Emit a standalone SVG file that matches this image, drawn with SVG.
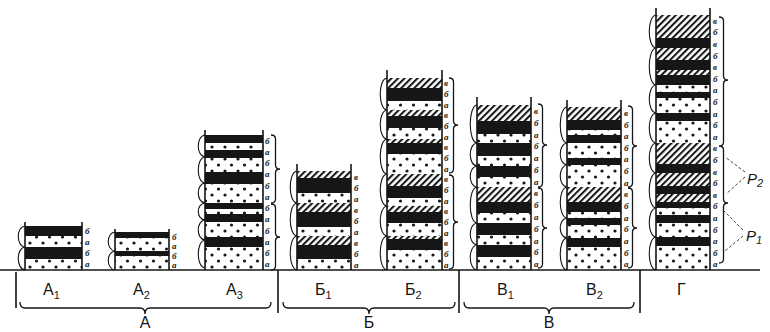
<svg xmlns="http://www.w3.org/2000/svg" width="770" height="332" viewBox="0 0 770 332">
<defs>
<pattern id="hp" width="4.6" height="4.6" patternUnits="userSpaceOnUse" patternTransform="rotate(45)"><rect width="4.6" height="4.6" fill="#fff"/><line x1="1" y1="0" x2="1" y2="4.6" stroke="#161616" stroke-width="2.1"/></pattern>
<pattern id="dp" width="13" height="12" patternUnits="userSpaceOnUse"><rect width="13" height="12" fill="#fff"/><circle cx="4" cy="3" r="1.6" fill="#161616"/><circle cx="10.5" cy="9" r="1.6" fill="#161616"/></pattern>
<style>
.k{fill:#161616}.h{fill:url(#hp)}.d{fill:url(#dp)}
.ln{stroke:#161616;stroke-width:1.6;fill:none}
.arc{stroke:#161616;stroke-width:1.1;fill:none}
.br{stroke:#161616;stroke-width:1.3;fill:none}
.ds{stroke:#161616;stroke-width:0.8;fill:none;stroke-dasharray:3 2}
.lb{font-family:"Liberation Serif",serif;font-style:italic;font-weight:bold;font-size:9px;fill:#161616}
.cap{font-family:"Liberation Sans",sans-serif;font-size:16px;fill:#161616}
.sub{font-size:11px}
.p{font-family:"Liberation Sans",sans-serif;font-style:italic;font-size:15px;fill:#161616}
</style>
</defs>
<rect width="770" height="332" fill="#fff"/>

<g id="A1">
<rect class="k" x="25" y="226" width="57" height="10"/><rect class="d" x="25" y="236" width="57" height="11"/><rect class="k" x="25" y="247" width="57" height="12"/><rect class="d" x="25" y="259" width="57" height="11"/>
<path class="ln" d="M25 222V270M82 222V270"/>
<path class="arc" d="M25 226C16 227 16 246 25 247M25 247C16 248 16 269 25 270"/>
<g class="lb"><text x="85" y="234">б</text><text x="85" y="245">а</text><text x="85" y="256">б</text><text x="85" y="267">а</text></g>
</g>

<g id="A2">
<rect class="k" x="115" y="232" width="54" height="6"/><rect class="d" x="115" y="238" width="54" height="13"/><rect class="k" x="115" y="251" width="54" height="5"/><rect class="d" x="115" y="256" width="54" height="14"/>
<path class="ln" d="M115 229V270M169 229V270"/>
<path class="arc" d="M115 232C106 233 106 250 115 251M115 251C106 252 106 269 115 270"/>
<g class="lb"><text x="172" y="240">б</text><text x="172" y="249">а</text><text x="172" y="259">б</text><text x="172" y="268">а</text></g>
</g>

<g id="A3">
<rect class="k" x="205" y="135" width="58" height="8"/><rect class="d" x="205" y="143" width="58" height="7"/><rect class="k" x="205" y="150" width="58" height="8"/><rect class="d" x="205" y="158" width="58" height="14"/><rect class="k" x="205" y="172" width="58" height="12"/><rect class="d" x="205" y="184" width="58" height="19"/><rect class="k" x="205" y="203" width="58" height="6"/><rect class="d" x="205" y="209" width="58" height="5"/><rect class="k" x="205" y="214" width="58" height="8"/><rect class="d" x="205" y="222" width="58" height="15"/><rect class="k" x="205" y="237" width="58" height="10"/><rect class="d" x="205" y="247" width="58" height="23"/>
<path class="ln" d="M205 130V270M263 130V270"/>
<path class="arc" d="M205 135C196 136 196 156 205 157M205 157C196 158 196 182 205 183M205 183C196 184 196 202 205 203M205 203C196 204 196 219 205 220M205 220C196 221 196 239 205 240M205 240C196 241 196 267 205 268"/>
<path class="br" d="M271 135Q275.5 135 275.5 139L275.5 165Q275.5 169 280 169Q275.5 169 275.5 173L275.5 199Q275.5 203 271 203M271 204Q275.5 204 275.5 208L275.5 233Q275.5 237 280 237Q275.5 237 275.5 241L275.5 266Q275.5 270 271 270"/>
<g class="lb"><text x="265" y="144">б</text><text x="265" y="155">а</text><text x="265" y="166">б</text><text x="265" y="177">а</text><text x="265" y="189">б</text><text x="265" y="200">а</text><text x="265" y="211">б</text><text x="265" y="222">а</text><text x="265" y="234">б</text><text x="265" y="245">а</text><text x="265" y="256">б</text><text x="265" y="267">а</text></g>
</g>

<g id="B1">
<rect class="h" x="297" y="171" width="54" height="7"/><rect class="k" x="297" y="178" width="54" height="15"/><rect class="d" x="297" y="193" width="54" height="10"/><rect class="h" x="297" y="203" width="54" height="9"/><rect class="k" x="297" y="212" width="54" height="15"/><rect class="d" x="297" y="227" width="54" height="9"/><rect class="h" x="297" y="236" width="54" height="9"/><rect class="k" x="297" y="245" width="54" height="14"/><rect class="d" x="297" y="259" width="54" height="11"/>
<path class="ln" d="M297 164V270M351 164V270"/>
<path class="arc" d="M297 171C288 172 288 202 297 203M297 203C288 204 288 235 297 236M297 236C288 237 288 269 297 270"/>
<g class="lb"><text x="354" y="180">в</text><text x="354" y="191">б</text><text x="354" y="202">а</text><text x="354" y="213">в</text><text x="354" y="224">б</text><text x="354" y="235">а</text><text x="354" y="246">в</text><text x="354" y="257">б</text><text x="354" y="268">а</text></g>
</g>

<g id="B2">
<rect class="h" x="387" y="78" width="55" height="10"/><rect class="k" x="387" y="88" width="55" height="13"/><rect class="d" x="387" y="101" width="55" height="9"/><rect class="h" x="387" y="110" width="55" height="6"/><rect class="k" x="387" y="116" width="55" height="12"/><rect class="d" x="387" y="128" width="55" height="11"/><rect class="h" x="387" y="139" width="55" height="4"/><rect class="k" x="387" y="143" width="55" height="11"/><rect class="d" x="387" y="154" width="55" height="20"/><rect class="h" x="387" y="174" width="55" height="12"/><rect class="k" x="387" y="186" width="55" height="12"/><rect class="d" x="387" y="198" width="55" height="8"/><rect class="h" x="387" y="206" width="55" height="6"/><rect class="k" x="387" y="212" width="55" height="11"/><rect class="d" x="387" y="223" width="55" height="13"/><rect class="h" x="387" y="236" width="55" height="3"/><rect class="k" x="387" y="239" width="55" height="11"/><rect class="d" x="387" y="250" width="55" height="20"/>
<path class="ln" d="M387 70V270M442 70V270"/>
<path class="arc" d="M387 78C378 79 378 109 387 110M387 110C378 111 378 138 387 139M387 139C378 140 378 173 387 174M387 174C378 175 378 205 387 206M387 206C378 207 378 235 387 236M387 236C378 237 378 269 387 270"/>
<path class="br" d="M449 78Q453.5 78 453.5 82L453.5 121Q453.5 125 458 125Q453.5 125 453.5 129L453.5 169Q453.5 173 449 173M449 175Q453.5 175 453.5 179L453.5 218Q453.5 222 458 222Q453.5 222 453.5 226L453.5 265Q453.5 269 449 269"/>
<g class="lb"><text x="444" y="86">в</text><text x="444" y="97">б</text><text x="444" y="108">а</text><text x="444" y="118">в</text><text x="444" y="129">б</text><text x="444" y="140">а</text><text x="444" y="150">в</text><text x="444" y="161">б</text><text x="444" y="172">а</text><text x="444" y="182">в</text><text x="444" y="193">б</text><text x="444" y="204">а</text><text x="444" y="214">в</text><text x="444" y="225">б</text><text x="444" y="236">а</text><text x="444" y="246">в</text><text x="444" y="257">б</text><text x="444" y="268">а</text></g>
</g>

<g id="V1">
<rect class="h" x="477" y="105" width="54" height="16"/><rect class="k" x="477" y="121" width="54" height="13"/><rect class="d" x="477" y="134" width="54" height="9"/><rect class="k" x="477" y="143" width="54" height="13"/><rect class="d" x="477" y="156" width="54" height="10"/><rect class="k" x="477" y="166" width="54" height="11"/><rect class="d" x="477" y="177" width="54" height="10"/><rect class="h" x="477" y="187" width="54" height="15"/><rect class="k" x="477" y="202" width="54" height="11"/><rect class="d" x="477" y="213" width="54" height="10"/><rect class="k" x="477" y="223" width="54" height="12"/><rect class="d" x="477" y="235" width="54" height="10"/><rect class="k" x="477" y="245" width="54" height="12"/><rect class="d" x="477" y="257" width="54" height="13"/>
<path class="ln" d="M477 97V270M531 97V270"/>
<path class="arc" d="M477 105C468 106 468 142 477 143M477 143C468 144 468 165 477 166M477 166C468 167 468 186 477 187M477 187C468 188 468 222 477 223M477 223C468 224 468 244 477 245M477 245C468 246 468 269 477 270"/>
<path class="br" d="M538 104Q542.5 104 542.5 108L542.5 141Q542.5 145 547 145Q542.5 145 542.5 149L542.5 183Q542.5 187 538 187M538 188Q542.5 188 542.5 192L542.5 224Q542.5 228 547 228Q542.5 228 542.5 232L542.5 264Q542.5 268 538 268"/>
<g class="lb"><text x="534" y="114">в</text><text x="534" y="126">б</text><text x="534" y="138">а</text><text x="534" y="149">б</text><text x="534" y="161">а</text><text x="534" y="173">б</text><text x="534" y="185">а</text><text x="534" y="196">в</text><text x="534" y="208">б</text><text x="534" y="220">а</text><text x="534" y="232">б</text><text x="534" y="244">а</text><text x="534" y="255">б</text><text x="534" y="267">а</text></g>
</g>

<g id="V2">
<rect class="h" x="567" y="107" width="54" height="13"/><rect class="k" x="567" y="120" width="54" height="10"/><rect class="d" x="567" y="130" width="54" height="5"/><rect class="k" x="567" y="135" width="54" height="8"/><rect class="d" x="567" y="143" width="54" height="15"/><rect class="k" x="567" y="158" width="54" height="7"/><rect class="d" x="567" y="165" width="54" height="22"/><rect class="h" x="567" y="187" width="54" height="15"/><rect class="k" x="567" y="202" width="54" height="10"/><rect class="d" x="567" y="212" width="54" height="6"/><rect class="k" x="567" y="218" width="54" height="7"/><rect class="d" x="567" y="225" width="54" height="13"/><rect class="k" x="567" y="238" width="54" height="9"/><rect class="d" x="567" y="247" width="54" height="23"/>
<path class="ln" d="M567 100V270M621 100V270"/>
<path class="arc" d="M567 107C558 108 558 142 567 143M567 143C558 144 558 164 567 165M567 165C558 166 558 186 567 187M567 187C558 188 558 217 567 218M567 218C558 219 558 237 567 238M567 238C558 239 558 269 567 270"/>
<path class="br" d="M628 106Q632.5 106 632.5 110L632.5 142Q632.5 146 637 146Q632.5 146 632.5 150L632.5 183Q632.5 187 628 187M628 188Q632.5 188 632.5 192L632.5 224Q632.5 228 637 228Q632.5 228 632.5 232L632.5 264Q632.5 268 628 268"/>
<g class="lb"><text x="624" y="116">в</text><text x="624" y="128">б</text><text x="624" y="139">а</text><text x="624" y="151">б</text><text x="624" y="162">а</text><text x="624" y="174">б</text><text x="624" y="186">а</text><text x="624" y="197">в</text><text x="624" y="209">б</text><text x="624" y="221">а</text><text x="624" y="232">б</text><text x="624" y="244">а</text><text x="624" y="256">б</text><text x="624" y="267">а</text></g>
</g>

<g id="G">
<rect class="h" x="656" y="15" width="54" height="23"/><rect class="k" x="656" y="38" width="54" height="10"/><rect class="h" x="656" y="48" width="54" height="12"/><rect class="k" x="656" y="60" width="54" height="10"/><rect class="h" x="656" y="70" width="54" height="5"/><rect class="k" x="656" y="75" width="54" height="10"/><rect class="d" x="656" y="85" width="54" height="7"/><rect class="k" x="656" y="92" width="54" height="6"/><rect class="d" x="656" y="98" width="54" height="15"/><rect class="k" x="656" y="113" width="54" height="8"/><rect class="d" x="656" y="121" width="54" height="22"/><rect class="h" x="656" y="143" width="54" height="21"/><rect class="k" x="656" y="164" width="54" height="9"/><rect class="h" x="656" y="173" width="54" height="13"/><rect class="k" x="656" y="186" width="54" height="8"/><rect class="h" x="656" y="194" width="54" height="8"/><rect class="k" x="656" y="202" width="54" height="6"/><rect class="d" x="656" y="208" width="54" height="7"/><rect class="k" x="656" y="215" width="54" height="8"/><rect class="d" x="656" y="223" width="54" height="14"/><rect class="k" x="656" y="237" width="54" height="9"/><rect class="d" x="656" y="246" width="54" height="24"/>
<path class="ln" d="M656 8V270M710 8V270"/>
<path class="arc" d="M656 15C647 16 647 47 656 48M656 48C647 49 647 84 656 85M656 85C647 86 647 112 656 113M656 113C647 114 647 142 656 143M656 143C647 144 647 172 656 173M656 173C647 174 647 207 656 208M656 208C647 209 647 236 656 237M656 237C647 238 647 269 656 270"/>
<path class="br" d="M719 17Q723.5 17 723.5 21L723.5 76Q723.5 80 728 80Q723.5 80 723.5 84L723.5 142Q723.5 146 719 146M719 146Q723.5 146 723.5 150L723.5 199Q723.5 203 728 203Q723.5 203 723.5 207L723.5 259Q723.5 263 719 263"/>
<g class="lb"><text x="713" y="24">в</text><text x="713" y="35">б</text><text x="713" y="47">в</text><text x="713" y="59">б</text><text x="713" y="70">в</text><text x="713" y="82">б</text><text x="713" y="93">а</text><text x="713" y="105">б</text><text x="713" y="117">а</text><text x="713" y="128">б</text><text x="713" y="140">а</text><text x="713" y="151">в</text><text x="713" y="163">б</text><text x="713" y="175">в</text><text x="713" y="186">б</text><text x="713" y="198">в</text><text x="713" y="209">б</text><text x="713" y="221">а</text><text x="713" y="233">б</text><text x="713" y="244">а</text><text x="713" y="256">б</text><text x="713" y="267">а</text></g>
<path class="ds" d="M745 172L725 157M745 177L726 194M743 230L724 211M743 236L725 251"/>
<text class="p" x="747" y="184">Р<tspan class="sub" dy="3">2</tspan></text>
<text class="p" x="746" y="241">Р<tspan class="sub" dy="3">1</tspan></text>
</g>

<g id="connectors">
<path class="ln" d="M0 270H760" stroke-width="2"/>
<path class="ln" d="M16 272V308M278 270V313M459 270V313M640 270V313" stroke-width="1.3"/>
<path class="br" d="M20 302Q20 308 25 308L140 308Q145 308 145 314Q145 308 150 308L266 308Q271 308 271 302"/>
<path class="br" d="M283 302Q283 308 288 308L364 308Q369 308 369 314Q369 308 374 308L450 308Q455 308 455 302"/>
<path class="br" d="M464 302Q464 308 469 308L544 308Q549 308 549 314Q549 308 554 308L629 308Q634 308 634 302"/>
</g>

<g id="labels" class="cap">
<text x="43" y="295">А<tspan class="sub" dy="4">1</tspan></text>
<text x="133" y="295">А<tspan class="sub" dy="4">2</tspan></text>
<text x="226" y="295">А<tspan class="sub" dy="4">3</tspan></text>
<text x="315" y="295">Б<tspan class="sub" dy="4">1</tspan></text>
<text x="405" y="295">Б<tspan class="sub" dy="4">2</tspan></text>
<text x="497" y="295">В<tspan class="sub" dy="4">1</tspan></text>
<text x="586" y="295">В<tspan class="sub" dy="4">2</tspan></text>
<text x="677" y="295">Г</text>
<text x="145" y="328" text-anchor="middle">А</text>
<text x="369" y="328" text-anchor="middle">Б</text>
<text x="549" y="328" text-anchor="middle">В</text>
</g>
</svg>
